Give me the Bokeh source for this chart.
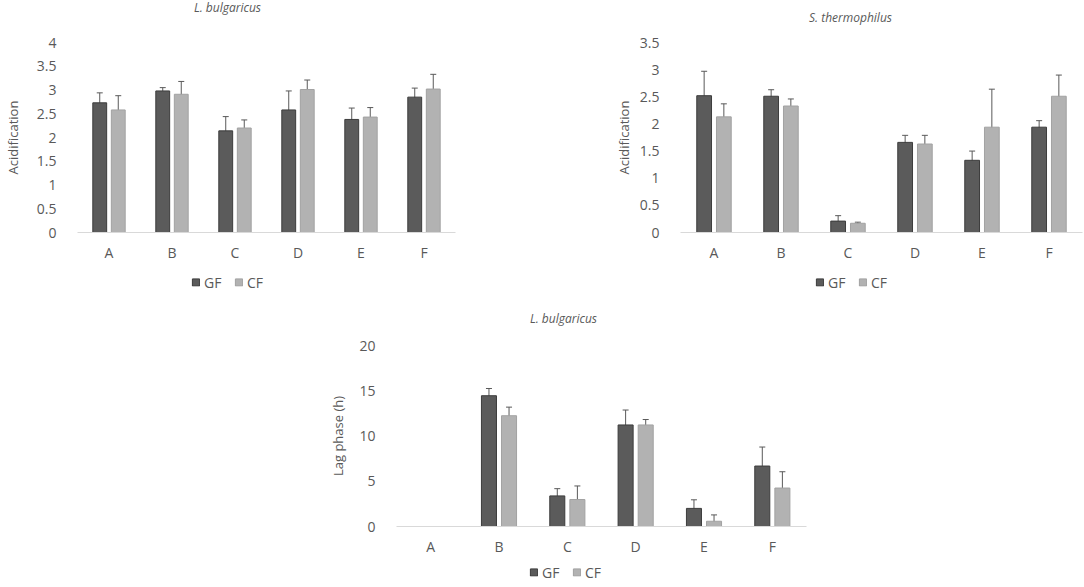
import numpy as np
from bokeh.plotting import figure
from bokeh.models import (ColumnDataSource, FactorRange, Range1d, FixedTicker,
                          CustomJSTickFormatter, Whisker, TeeHead, Legend, LegendItem,
                          Spacer, Label)
from bokeh.layouts import column, row
from bokeh.transform import dodge
from bokeh.embed import file_html
from bokeh.resources import INLINE

nan = float("nan")

categories = ["A", "B", "C", "D", "E", "F"]
series_names = ["GF", "CF"]
titles = ["L. bulgaricus", "S. thermophilus", "L. bulgaricus"]
ylabels = ["Acidification", "Acidification", "Lag phase (h)"]

# Chart 1: L. bulgaricus acidification
lb_acid_gf = [2.73, 2.98, 2.14, 2.58, 2.38, 2.85]
lb_acid_gf_err = [0.21, 0.07, 0.30, 0.40, 0.24, 0.19]
lb_acid_cf = [2.58, 2.91, 2.20, 3.01, 2.43, 3.02]
lb_acid_cf_err = [0.30, 0.27, 0.17, 0.20, 0.20, 0.31]
lb_acid_ticks = [0, 0.5, 1, 1.5, 2, 2.5, 3, 3.5, 4]

# Chart 2: S. thermophilus acidification
st_acid_gf = [2.52, 2.51, 0.21, 1.66, 1.33, 1.94]
st_acid_gf_err = [0.45, 0.12, 0.10, 0.13, 0.17, 0.12]
st_acid_cf = [2.13, 2.33, 0.17, 1.63, 1.94, 2.51]
st_acid_cf_err = [0.24, 0.13, 0.02, 0.16, 0.70, 0.39]
st_acid_ticks = [0, 0.5, 1, 1.5, 2, 2.5, 3, 3.5]

# Chart 3: L. bulgaricus lag phase (A has no bars)
lb_lag_gf = [nan, 14.45, 3.38, 11.22, 2.00, 6.68]
lb_lag_gf_err = [nan, 0.80, 0.80, 1.65, 0.95, 2.10]
lb_lag_cf = [nan, 12.24, 2.98, 11.22, 0.58, 4.25]
lb_lag_cf_err = [nan, 0.95, 1.50, 0.60, 0.70, 1.80]
lag_ticks = [0, 5, 10, 15, 20]

GF_FILL, GF_LINE = "#5b5b5b", "#3c3c3c"
CF_FILL, CF_LINE = "#b2b2b2", "#a2a2a2"
TXT = "#595959"
FONT = "Open Sans"


def blank(width, height):
    f = figure(width=width, height=height, x_range=Range1d(0, 1), y_range=Range1d(0, 1),
               x_axis_type=None, y_axis_type=None, output_backend="svg",
               toolbar_location=None, min_border=0)
    f.outline_line_color = None
    f.background_fill_color = "white"
    f.border_fill_color = "white"
    return f


def make_title(width, height, text, sx, sy):
    f = blank(width, height)
    f.add_layout(Label(x=sx, y=sy, x_units="screen", y_units="screen", text=text,
                       text_font=FONT, text_font_style="italic", text_font_size="12px",
                       text_color=TXT, text_align="center", text_baseline="middle"))
    return f


def make_chart(ylabel, gf, gf_err, cf, cf_err, ticks, width, height,
               mb_left, mb_right, mb_top, mb_bottom, label_standoff):
    gf = np.array(gf, dtype=float)
    gfe = np.array(gf_err, dtype=float)
    cf = np.array(cf, dtype=float)
    cfe = np.array(cf_err, dtype=float)
    src = ColumnDataSource(dict(
        cat=categories, gf=gf, cf=cf,
        gf_lo=gf - gfe, gf_hi=gf + gfe, cf_lo=cf - cfe, cf_hi=cf + cfe))

    p = figure(x_range=FactorRange(*categories), y_range=Range1d(ticks[0], ticks[-1]),
               width=width, height=height, output_backend="svg", toolbar_location=None,
               min_border_left=mb_left, min_border_right=mb_right,
               min_border_top=mb_top, min_border_bottom=mb_bottom)

    off = 0.147
    w = 0.22
    p.vbar(x=dodge("cat", -off, range=p.x_range), top="gf", width=w, source=src,
           fill_color=GF_FILL, line_color=GF_LINE, line_width=1)
    p.vbar(x=dodge("cat", off, range=p.x_range), top="cf", width=w, source=src,
           fill_color=CF_FILL, line_color=CF_LINE, line_width=1)

    for key, o in (("gf", -off), ("cf", off)):
        wk = Whisker(source=src, base=dodge("cat", o, range=p.x_range),
                     upper=key + "_hi", lower=key + "_lo",
                     line_color=TXT, line_width=1,
                     upper_head=TeeHead(size=6, line_color=TXT, line_width=1),
                     lower_head=TeeHead(size=6, line_color=TXT, line_width=1))
        p.add_layout(wk)

    p.xgrid.visible = False
    p.ygrid.visible = False
    p.outline_line_color = None
    p.background_fill_color = "white"
    p.border_fill_color = "white"

    p.xaxis.axis_line_color = "#d9d9d9"
    p.xaxis.axis_line_width = 1
    p.xaxis.major_tick_line_color = None
    p.xaxis.minor_tick_line_color = None
    p.xaxis.major_label_text_font = FONT
    p.xaxis.major_label_text_font_size = "14px"
    p.xaxis.major_label_text_color = TXT
    p.xaxis.major_label_standoff = 4

    p.yaxis.ticker = FixedTicker(ticks=ticks)
    p.yaxis.formatter = CustomJSTickFormatter(code="return tick.toString();")
    p.yaxis.axis_line_color = None
    p.yaxis.major_tick_line_color = None
    p.yaxis.minor_tick_line_color = None
    p.yaxis.major_label_text_font = FONT
    p.yaxis.major_label_text_font_size = "14px"
    p.yaxis.major_label_text_color = TXT
    p.yaxis.major_label_standoff = 15
    p.yaxis.axis_label = ylabel
    p.yaxis.axis_label_text_font = FONT
    p.yaxis.axis_label_text_font_size = "13px"
    p.yaxis.axis_label_text_font_style = "normal"
    p.yaxis.axis_label_text_color = TXT
    p.yaxis.axis_label_standoff = label_standoff
    return p


def make_legend(width, height):
    lf = blank(width, height)
    # off-range proxy rows so the legend keys get drawn
    proxy = ColumnDataSource(dict(x=[5.0], top=[0.0]))
    r_gf = lf.vbar(x="x", top="top", width=0.1, source=proxy,
                   fill_color=GF_FILL, line_color=GF_LINE, line_width=1)
    r_cf = lf.vbar(x="x", top="top", width=0.1, source=proxy,
                   fill_color=CF_FILL, line_color=CF_LINE, line_width=1)
    legend = Legend(items=[LegendItem(label=series_names[0], renderers=[r_gf]),
                           LegendItem(label=series_names[1], renderers=[r_cf])],
                    orientation="horizontal", location="center",
                    border_line_color=None, background_fill_alpha=0,
                    glyph_width=9, glyph_height=9, label_standoff=4, spacing=10,
                    padding=0, margin=0,
                    label_text_font=FONT, label_text_font_size="14px",
                    label_text_color=TXT)
    lf.add_layout(legend)
    return lf


t1 = make_title(460, 30, titles[0], 227, 23)
t2 = make_title(484, 30, titles[1], 250, 13)
t3 = make_title(500, 32, titles[2], 243, 14)

p1 = make_chart(ylabels[0], lb_acid_gf, lb_acid_gf_err, lb_acid_cf, lb_acid_cf_err,
                lb_acid_ticks, 460, 234, 66, 5, 12, 32, 12)
p2 = make_chart(ylabels[1], st_acid_gf, st_acid_gf_err, st_acid_cf, st_acid_cf_err,
                st_acid_ticks, 484, 234, 80, 2, 12, 32, 4)
p3 = make_chart(ylabels[2], lb_lag_gf, lb_lag_gf_err, lb_lag_cf, lb_lag_cf_err,
                lag_ticks, 500, 226, 76, 14, 13, 30, 9)

l1 = make_legend(120, 36)
l2 = make_legend(120, 36)
l3 = make_legend(120, 27)

layout = column(row(t1, Spacer(width=140, height=30), t2),
                row(p1, Spacer(width=140, height=234), p2),
                row(Spacer(width=169, height=36), l1, Spacer(width=504, height=36), l2),
                row(Spacer(width=320, height=32), t3),
                row(Spacer(width=320, height=226), p3),
                row(Spacer(width=507, height=27), l3))

open("out.html", "w").write(file_html(layout, INLINE))
